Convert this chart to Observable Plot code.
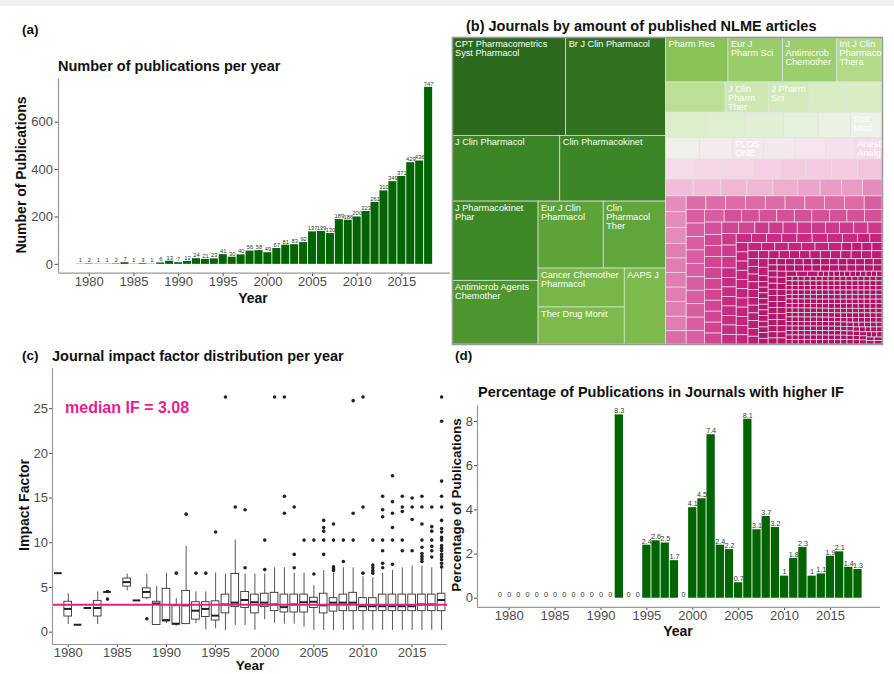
<!DOCTYPE html>
<html><head><meta charset="utf-8">
<script src="https://cdn.jsdelivr.net/npm/d3@7"></script>
<script src="https://cdn.jsdelivr.net/npm/@observablehq/plot@0.6"></script>
<style>
body{margin:0;background:#fff;font-family:"Liberation Sans",Arial,Helvetica,sans-serif;}
#page{position:relative;width:894px;height:674px;overflow:hidden;background:#fff;}
.pane{position:absolute;}
.t{position:absolute;font-weight:bold;font-size:14.5px;color:#111;white-space:nowrap;line-height:1;}
.ax{position:absolute;font-weight:bold;font-size:14px;color:#111;white-space:nowrap;line-height:1;transform:translate(-50%,-50%);}
.rot{transform:translate(-50%,-50%) rotate(-90deg);}
.ann{position:absolute;font-weight:bold;font-size:16px;color:#ec1a8d;white-space:nowrap;line-height:1;}
#topband{position:absolute;left:0;top:0;width:894px;height:6px;background:#f0f0f0;}
</style></head><body>
<div id="page">
  <div id="topband"></div>
  <div class="pane" id="pa" style="left:0;top:40px"></div>
  <div class="pane" id="pb" style="left:452px;top:37px"></div>
  <div class="pane" id="pc" style="left:0;top:345px"></div>
  <div class="pane" id="pd" style="left:450px;top:360px"></div>

  <div class="t" style="left:22px;top:23px;font-size:13.5px">(a)</div>
  <div class="t" style="left:58px;top:59px">Number of publications per year</div>
  <div class="t" style="left:466px;top:19px">(b) Journals by amount of published NLME articles</div>
  <div class="t" style="left:22px;top:349px;font-size:13.5px">(c)</div>
  <div class="t" style="left:52px;top:349px">Journal impact factor distribution per year</div>
  <div class="t" style="left:455px;top:349px;font-size:13.5px">(d)</div>
  <div class="t" style="left:478px;top:385px">Percentage of Publications in Journals with higher IF</div>

  <div class="ax" style="left:253px;top:298px">Year</div>
  <div class="ax rot" style="left:21px;top:175px">Number of Publications</div>
  <div class="ax" style="left:250px;top:666px;font-size:13.5px">Year</div>
  <div class="ax rot" style="left:24px;top:505px">Impact Factor</div>
  <div class="ax" style="left:678px;top:631px">Year</div>
  <div class="ax rot" style="left:457px;top:505px;font-size:13.5px">Percentage of Publications</div>
  <div class="ann" style="left:65px;top:400px">median IF = 3.08</div>
</div>
<script>
// ---------------- DATA ----------------
const years = [1979,1980,1981,1982,1983,1984,1985,1986,1987,1988,1989,1990,1991,1992,1993,1994,1995,1996,1997,1998,
               1999,2000,2001,2002,2003,2004,2005,2006,2007,2008,2009,2010,2011,2012,2013,2014,2015,2016,2017,2018];
const pubCounts = [1,2,1,1,2,7,1,3,1,6,13,7,12,24,21,23,41,30,40,56,
                   58,49,67,81,83,92,137,139,130,189,186,200,223,261,310,349,371,429,436,747];
const pctHigherIF = [0,0,0,0,0,0,0,0,0,0,0,0,0,8.3,0,0,2.4,2.6,2.5,1.7,
                     0,4.1,4.5,7.4,2.4,2.2,0.7,8.1,3.1,3.7,3.2,1,1.8,2.3,1,1.1,1.9,2.1,1.4,1.3];
const yearTicks = [1980,1985,1990,1995,2000,2005,2010,2015];

// impact factor boxplot summaries
const ifYear = [1979,1980,1981,1982,1983,1984,1986,1987,1988,1989,1990,1991,1992,1993,1994,1995,1996,1997,1998,1999,
                2000,2001,2002,2003,2004,2005,2006,2007,2008,2009,2010,2011,2012,2013,2014,2015,2016,2017,2018];
const ifLo  = [6.6,0.86,0.83,2.7,0.86,4.5,4.6,3.55,3.65,0.8,0.95,0.65,0.85,0.95,0.27,0.38,0.2,0.75,0.75,0.2,
               1.4,1.0,0.9,0.9,0.55,0.2,0.2,0.2,0.2,0.2,0.2,0.2,0.2,0.2,0.2,0.2,0.2,0.2,0.2];
const ifQ1  = [6.6,1.75,0.83,2.7,1.75,4.5,5.1,3.55,3.8,0.8,1.2,0.85,0.9,1.4,1.7,1.3,2.1,2.8,2.7,2.1,
               2.8,2.35,2.2,2.2,2.2,2.7,2.1,2.3,2.35,2.35,2.35,2.35,2.35,2.35,2.35,2.35,2.35,2.35,2.35];
const ifMed = [6.6,2.6,0.83,2.7,2.7,4.5,5.6,3.55,4.5,3.2,1.35,0.95,3.0,2.4,2.6,1.85,3.1,3.3,3.6,3.35,
               3.3,3.1,2.8,3.1,3.35,3.4,3.0,3.3,3.3,3.3,2.9,2.9,2.9,2.9,2.9,2.9,3.1,3.1,3.6];
const ifQ3  = [6.6,3.4,0.83,2.7,3.5,4.5,6.0,3.55,4.9,3.4,4.85,2.9,4.6,3.35,3.35,3.45,4.2,6.5,4.5,4.2,
               4.3,4.4,4.2,4.2,4.2,3.85,4.3,3.8,4.2,4.4,3.8,3.8,4.2,4.2,4.2,4.2,4.2,4.2,4.3];
const ifHi  = [6.6,4.3,0.83,2.7,4.5,4.5,6.5,3.55,6.5,5.1,6.6,3.75,9.6,4.5,4.5,6.6,6.5,10.3,6.5,6.5,
               6.5,7.2,7.2,6.6,6.6,5.2,6.9,6.6,7.2,7.2,6.2,6.1,6.6,6.9,7.2,7.4,7.4,7.2,7.2];
const outlierYear = [1984,1984,1988,1991,1992,1993,1994,1995,1996,1997,1998,1998,2000,2000,2001,2002,2002,2002,
  2003,2003,2003,2004,2005,2005,2006,2006,2006,2006,2006,2007,2007,2007,2007,2007,2008,2008,2009,2009,2009,
  2010,2010,2010,2011,2011,2011,2011,2011,2012,2012,2012,2012,2012,2012,2012,2013,2013,2013,2013,2013,2013,
  2014,2014,2014,2014,2014,2015,2015,2015,2015,2016,2016,2016,2016,2016,2016,2016,2016,2016,
  2017,2017,2017,2017,2017,2017,2017,
  2018,2018,2018,2018,2018,2018,2018,2018,2018,2018,2018,2018,2018,2018,2018,2018,2018,2018];
const outlierValue = [4.55,3.7,1.5,6.6,13.2,6.6,6.6,11.2,26.3,14.0,7.2,13.7,7.0,10.3,26.3,13.3,15.2,26.3,
  7.2,8.7,14.0,10.3,6.5,10.3,8.7,10.3,11.3,11.7,12.5,6.9,7.1,7.3,10.3,12.1,7.9,10.3,10.3,13.3,25.9,
  6.6,14.0,26.3,6.6,6.9,7.2,7.5,10.3,7.2,7.7,9.1,10.3,12.9,13.7,15.2,7.6,10.3,11.7,13.3,14.6,17.5,
  9.1,10.3,13.5,14.0,15.2,9.1,12.6,14.0,15.0,7.9,8.2,8.5,8.8,9.5,10.3,12.1,14.0,15.2,
  8.4,9.1,9.6,10.3,11.3,11.8,14.0,
  7.3,7.7,8.1,8.4,8.7,9.1,9.4,9.7,10.3,10.6,11.2,11.6,12.5,14.0,15.2,16.9,23.6,26.3];
const medianIF = 3.08;

// treemap: journals (largest first) and the long tail as a frequency table
const journalNames = ["CPT Pharmacometrics Syst Pharmacol","Br J Clin Pharmacol","J Clin Pharmacol","Clin Pharmacokinet",
  "J Pharmacokinet Phar","Antimicrob Agents Chemother","Eur J Clin Pharmacol","Clin Pharmacol Ther",
  "Cancer Chemother Pharmacol","Ther Drug Monit","AAPS J","Pharm Res","Eur J Pharm Sci","J Antimicrob Chemother",
  "Int J Clin Pharmacol Thera","","J Clin Pharm Ther","J Pharm Sci","","","","","","","",
  "Stat Med","","","PLOS ONE","","","",
  "Anesth Analg","","","","","","","",
  "","","","","","","","",""];
const journalCounts = [410,360,260,255,250,201,160,153,123,117,115,103,90,89,
  75,66,48,45,41,40,38,36,35,32,30,
  29,27,26,25,25,24,23,
  22,22,21,21,20,19,19,19,
  18,17,17,16,16,15,14,13,13];
const tailSize = [12,11,10,9,8,7,6,5,4,3,2,1];
const tailFreq = [4,6,10,12,10,12,12,16,20,30,65,250];

// ---------------- COMMON ----------------
const FONT = '"Liberation Sans", Arial, Helvetica, sans-serif';
const baseStyle = {fontFamily: FONT, fontSize: "13px", color: "#4d4d4d", background: "transparent", overflow: "visible"};
const axisStroke = "#9a9a9a";

// ---------------- (a) ----------------
const pubData = years.map((y, i) => ({year: y, n: pubCounts[i]}));
const xDomA = [1976.55, 2020.45], yDomA = [-37.35, 784.35];
document.getElementById("pa").append(Plot.plot({
  width: 450, height: 275, marginLeft: 58, marginRight: 0, marginTop: 38, marginBottom: 42.3,
  style: baseStyle,
  x: {domain: xDomA, ticks: yearTicks, tickFormat: "d", tickSize: 3.5, tickPadding: 0.5, label: null},
  y: {domain: yDomA, ticks: [0, 200, 400, 600], tickSize: 3.5, tickPadding: 2, label: null},
  marks: [
    Plot.rectY(pubData, {x1: d => d.year - 0.45, x2: d => d.year + 0.45, y: "n", fill: "#006400"}),
    Plot.text(pubData, {x: "year", y: "n", text: d => String(d.n), dy: -3.5, fontSize: 5.8, fill: "#333"}),
    Plot.ruleX([xDomA[0]], {stroke: axisStroke, strokeWidth: 1.2}),
    Plot.ruleY([yDomA[0]], {stroke: axisStroke, strokeWidth: 1.2})
  ]
}));

// ---------------- (b) treemap ----------------
const tmItems = journalNames.map((name, i) => ({name, value: journalCounts[i]}));
tailSize.forEach((s, i) => { for (let k = 0; k < tailFreq[i]; k++) tmItems.push({name: "", value: s}); });
const TW = 430, TH = 307, ASP = TW / TH;
const badness = r => Math.max(r / ASP, ASP / r);
function stripLayout(nodes, x0, y0, x1, y1) {
  let rem = d3.sum(nodes, d => d.value), i = 0;
  const n = nodes.length;
  while (i < n) {
    const dx = x1 - x0, dy = y1 - y0;
    const horiz = dx / dy < ASP;
    const len = horiz ? dx : dy, breadth = horiz ? dy : dx;
    let j = i, s = 0, best = Infinity, mn = Infinity, mx = 0;
    while (j < n) {
      const v = nodes[j].value, s2 = s + v;
      const mn2 = Math.min(mn, v), mx2 = Math.max(mx, v);
      const t = breadth * s2 / rem;
      const lMax = len * mx2 / s2, lMin = len * mn2 / s2;
      const rA = horiz ? lMax / t : t / lMax, rB = horiz ? lMin / t : t / lMin;
      const worst = Math.max(badness(rA), badness(rB));
      if (worst > best) break;
      best = worst; s = s2; mn = mn2; mx = mx2; j++;
    }
    const t = j >= n ? breadth : breadth * s / rem;
    let p = horiz ? x0 : y0;
    for (let k = i; k < j; k++) {
      const l = len * nodes[k].value / s;
      if (horiz) { nodes[k].x0 = p; nodes[k].x1 = p + l; nodes[k].y0 = y0; nodes[k].y1 = y0 + t; }
      else { nodes[k].y0 = p; nodes[k].y1 = p + l; nodes[k].x0 = x0; nodes[k].x1 = x0 + t; }
      p += l;
    }
    if (horiz) y0 += t; else x0 += t;
    rem -= s; i = j;
  }
}
function halfTile(parent, x0, y0, x1, y1) {
  const nodes = parent.children, total = parent.value;
  let cum = 0, k = 0, bestDiff = Infinity;
  for (let i = 0; i < nodes.length; i++) {
    cum += nodes[i].value;
    const diff = Math.abs(cum - total / 2);
    if (diff < bestDiff) { bestDiff = diff; k = i + 1; }
  }
  const A = nodes.slice(0, k), B = nodes.slice(k);
  const xm = x0 + (x1 - x0) * d3.sum(A, d => d.value) / total;
  stripLayout(A, x0, y0, xm, y1);
  stripLayout(B, xm, y0, x1, y1);
}
const root = d3.hierarchy({children: tmItems}).sum(d => d.value || 0).sort((a, b) => b.value - a.value);
d3.treemap().size([TW, TH]).tile(halfTile).round(false)(root);
const leaves = root.leaves().map(l => ({name: l.data.name, value: l.data.value, x0: l.x0, x1: l.x1, y0: l.y0, y1: l.y1}));
const labelMarks = leaves.filter(d => d.name).map(d => Plot.text([d], {
  x: "x0", y: "y0", dx: 2.5, dy: 2.5, text: "name", textAnchor: "start", lineAnchor: "top",
  fill: "white", fontSize: 9.2, lineWidth: Math.max(2, (d.x1 - d.x0 - 5) / 9.2 * 1.05)
}));
document.getElementById("pb").append(Plot.plot({
  width: TW, height: TH, margin: 0,
  style: {...baseStyle, fontSize: "9px"},
  x: {domain: [0, TW], range: [0, TW], axis: null},
  y: {domain: [0, TH], range: [0, TH], axis: null},
  color: {type: "log",
    domain: [1, 2, 3, 5, 8, 10, 13, 16, 20, 24, 28, 34, 42, 60, 75, 100, 160, 250, 410],
    range: ["#ad1266","#b5156d","#bf1b77","#c92a83","#d4509a","#dc6ba8","#e89cc6","#efb6d5","#f5d0e4","#f5e6ee",
            "#eef3ea","#e3f1d6","#d6ecc0","#c1e29e","#b3da89","#8cc558","#5da337","#3e8727","#2b6a1d"]},
  marks: [
    Plot.rect(leaves, {x1: "x0", x2: "x1", y1: "y0", y2: "y1", fill: "value", stroke: "#e2e2e2", strokeWidth: 0.7}),
    ...labelMarks,
    Plot.frame({stroke: "#9a9a9a", strokeWidth: 1.5})
  ]
}));

// ---------------- (c) ----------------
const ifData = ifYear.map((y, i) => ({year: y, lo: ifLo[i], q1: ifQ1[i], med: ifMed[i], q3: ifQ3[i], hi: ifHi[i]}));
const outData = outlierYear.map((y, i) => ({year: y, v: outlierValue[i]}));
const xDomC = [1978.4, 2018.6], yDomC = [-1.38, 29.46];
const bw = 0.39;
document.getElementById("pc").append(Plot.plot({
  width: 450, height: 329, marginLeft: 52, marginRight: 3, marginTop: 23.3, marginBottom: 30,
  style: baseStyle,
  x: {domain: xDomC, ticks: yearTicks, tickFormat: "d", tickSize: 3, tickPadding: 0, label: null},
  y: {domain: yDomC, ticks: [0, 5, 10, 15, 20, 25], tickSize: 3, tickPadding: 1.5, label: null},
  marks: [
    Plot.ruleX(ifData, {x: "year", y1: "lo", y2: "hi", stroke: "#444", strokeWidth: 0.9}),
    Plot.rect(ifData, {x1: d => d.year - bw, x2: d => d.year + bw, y1: "q1", y2: "q3", fill: "white", stroke: "#333", strokeWidth: 0.9}),
    Plot.ruleY(ifData, {x1: d => d.year - bw, x2: d => d.year + bw, y: "med", stroke: "#222", strokeWidth: 2}),
    Plot.dot(outData, {x: "year", y: "v", r: 1.8, fill: "#222", stroke: null}),
    Plot.ruleY([medianIF], {stroke: "#ec1a8d", strokeWidth: 2}),
    Plot.ruleX([xDomC[0]], {stroke: axisStroke, strokeWidth: 1.2}),
    Plot.ruleY([yDomC[0]], {stroke: axisStroke, strokeWidth: 1.2})
  ]
}));

// ---------------- (d) ----------------
const pctData = years.map((y, i) => ({year: y, p: pctHigherIF[i]}));
const xDomD = [1976.55, 2020.45], yDomD = [-0.415, 8.715];
document.getElementById("pd").append(Plot.plot({
  width: 444, height: 314, marginLeft: 27, marginRight: 14, marginTop: 45.2, marginBottom: 67.1,
  style: baseStyle,
  x: {domain: xDomD, ticks: yearTicks, tickFormat: "d", tickSize: 3, tickPadding: 0, label: null},
  y: {domain: yDomD, ticks: [0, 2, 4, 6, 8], tickSize: 3, tickPadding: 1.5, label: null},
  marks: [
    Plot.rectY(pctData, {x1: d => d.year - 0.45, x2: d => d.year + 0.45, y: "p", fill: "#006400"}),
    Plot.text(pctData, {x: "year", y: "p", text: d => String(d.p), dy: -4, fontSize: 7.2, fill: "#333"}),
    Plot.ruleX([xDomD[0]], {stroke: axisStroke, strokeWidth: 1.2}),
    Plot.ruleY([yDomD[0]], {stroke: axisStroke, strokeWidth: 1.2})
  ]
}));
</script>
</body></html>
